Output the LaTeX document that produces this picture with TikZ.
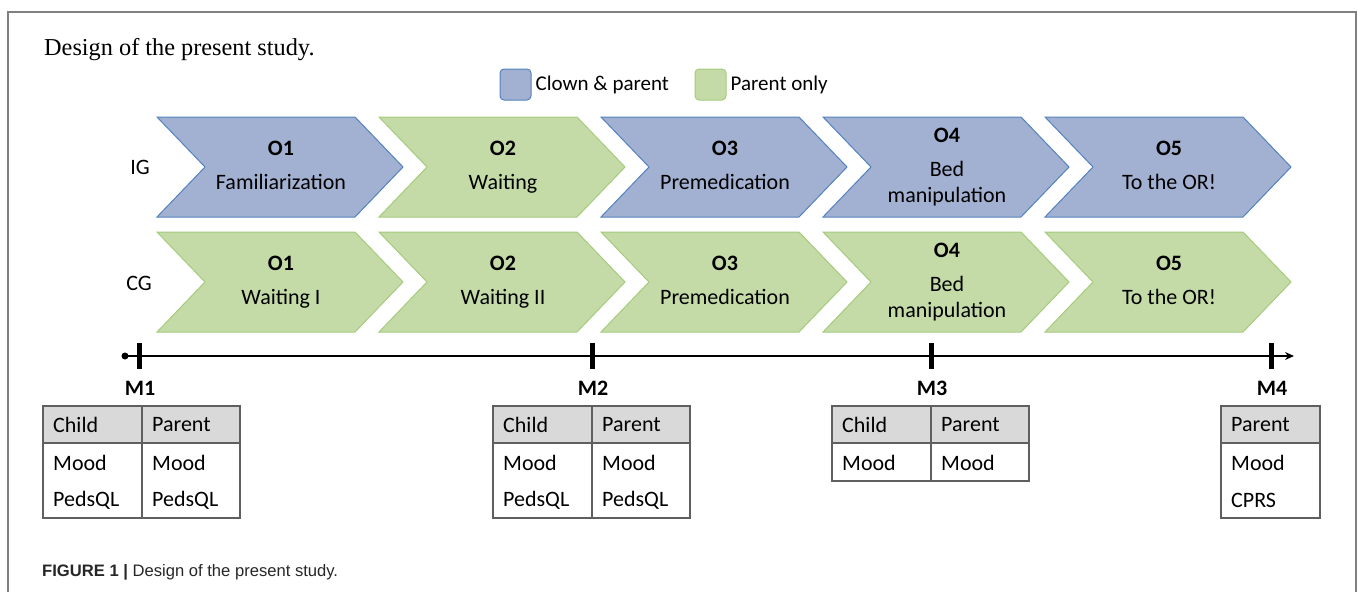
\documentclass[tikz,border=0pt]{standalone}
\usepackage{fontspec}
\setmainfont{Carlito}
\newfontfamily\titlefont{Liberation Serif}
\newfontfamily\capfont{Liberation Sans}
\usetikzlibrary{arrows.meta,positioning}

\definecolor{clownblue}{RGB}{162,177,209}
\definecolor{clownedge}{RGB}{84,130,190}
\definecolor{parentgreen}{RGB}{196,219,168}
\definecolor{parentedge}{RGB}{165,203,125}
\definecolor{hdrgray}{RGB}{217,217,217}
\definecolor{tblgray}{RGB}{95,95,95}

\tikzset{
  ig/.style={fill=clownblue, draw=clownedge, line width=1pt},
  cg/.style={fill=parentgreen, draw=parentedge, line width=1pt},
  lbl/.style={font=\fontsize{22}{26}\selectfont, align=center, inner sep=0pt},
  cell/.style={font=\fontsize{22}{26}\selectfont, anchor=west, inner sep=0pt},
  tbl/.style={draw=tblgray, line width=1.5pt},
  figframe/.style={draw=gray, line width=1.5pt},
}
% chevron: left x, top y, style
\newcommand{\chevron}[3]{\draw[#3] (#1,#2) -- ++(198,0) -- ++(48,50) -- ++(-48,50) -- ++(-198,0) -- ++(48,-50) -- cycle;}

\begin{document}
\begin{tikzpicture}[x=1pt, y=-1pt, >={Stealth[length=9pt,width=8pt]}]
  \useasboundingbox (0,0) rectangle (1357,592);
  \draw[figframe] (8,592) -- (8,12) -- (1356,12) -- (1356,592);
  \node[anchor=west, inner sep=0pt, font=\titlefont\fontsize{24.3}{28}\selectfont] (title) at (44,50) {Design of the present study.};

  % legend
  \node[ig, rounded corners=4pt, minimum size=31pt, inner sep=0pt] (keyig) at (515.5,84.5) {};
  \node[lbl, font=\fontsize{21}{25}\selectfont, right=4pt of keyig] (legig) {Clown \& parent};
  \node[cg, rounded corners=4pt, minimum size=31pt, inner sep=0pt] (keycg) at (710.5,84.5) {};
  \node[lbl, font=\fontsize{21}{25}\selectfont, right=4pt of keycg] (legcg) {Parent only};

  % groups
  \node[lbl] (ig) at (140,167) {IG};
  \node[lbl] (cg) at (139,283) {CG};
  \foreach \x/\s/\t [count=\i] in {157/ig/Familiarization, 379/cg/Waiting, 601/ig/Premedication, 823/ig/{Bed\\\strut manipulation}, 1045/ig/To the OR!} {
    \chevron{\x}{117}{\s}
    \node[lbl] (ig\i) at (\x+124,167) {\strut\textbf{O\i}\\[8pt]\strut\t};
  }
  \foreach \x/\t [count=\i] in {157/Waiting I, 379/Waiting II, 601/Premedication, 823/{Bed\\\strut manipulation}, 1045/To the OR!} {
    \chevron{\x}{232}{cg}
    \node[lbl] (cg\i) at (\x+124,282) {\strut\textbf{O\i}\\[8pt]\strut\t};
  }

  % time line
  \coordinate (t0) at (125,356);
  \coordinate (t1) at (1294,356);
  \fill (t0) circle (3.5pt);
  \draw[line width=2.5pt, ->] (t0) -- (t1);
  \foreach \x [count=\i] in {139,592,931,1271} {
    \draw[line width=5pt] (\x,343) -- (\x,369);
    \node[lbl] (m\i) at (\x+1,388) {\textbf{M\i}};
  }

  % measures
  \foreach \x/\b [count=\i] in {43/518, 493/518, 832/481} {
    \fill[hdrgray] (\x,406) rectangle ++(197,37);
    \draw[tbl] (\x,406) rectangle (\x+197,\b);
    \draw[tbl] (\x,443) -- ++(197,0) (\x+99,406) -- (\x+99,\b);
    \node[cell] (child\i) at (\x+10,425) {Child};
    \node[cell] (parent\i) at (\x+109,425) {Parent};
    \node[cell] (cmood\i) at (\x+10,463) {Mood};
    \node[cell] (pmood\i) at (\x+109,463) {Mood};
  }
  \node[cell] (cpeds1) at (53,500) {PedsQL};
  \node[cell] (ppeds1) at (152,500) {PedsQL};
  \node[cell] (cpeds2) at (503,500) {PedsQL};
  \node[cell] (ppeds2) at (602,500) {PedsQL};
  \fill[hdrgray] (1221,406) rectangle (1320,443);
  \draw[tbl] (1221,406) rectangle (1320,518) (1221,443) -- (1320,443);
  \node[cell] (parent4) at (1231,425) {Parent};
  \node[cell] (pmood4) at (1231,463) {Mood};
  \node[cell] (cprs4) at (1231,500) {CPRS};

  \node[anchor=west, inner sep=0pt, text=black!85, font=\capfont\fontsize{16.6}{19}\selectfont] (caption) at (42,572) {\textbf{FIGURE 1 |} Design of the present study.};
\end{tikzpicture}
\end{document}
